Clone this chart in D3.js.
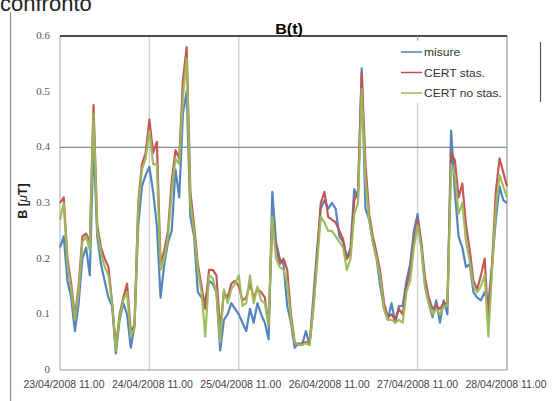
<!DOCTYPE html>
<html>
<head>
<meta charset="utf-8">
<script src="https://cdn.jsdelivr.net/npm/d3@7"></script>
<style>
body { margin: 0; background: #fff; }
svg { display: block; font-family: "Liberation Sans", Arial, sans-serif; }
</style>
</head>
<body>
<script>
// serie orarie dal 23/04/2008 11.00 al 28/04/2008 11.00
let seriesNames = ['misure', 'CERT stas.', 'CERT no stas.']
let colors = ['#4a7ebb', '#c0504d', '#9bbb59']
let tickLabels = ['23/04/2008 11.00', '24/04/2008 11.00', '25/04/2008 11.00',
	'26/04/2008 11.00', '27/04/2008 11.00', '28/04/2008 11.00']
let yTicks = [0, 0.1, 0.2, 0.3, 0.4, 0.5, 0.6]

let misure = [
	0.22, 0.24, 0.16, 0.13, 0.07, 0.12, 0.20, 0.22, 0.17, 0.41,
	0.24, 0.19, 0.16, 0.13, 0.115, 0.03, 0.09, 0.12, 0.10, 0.04,
	0.08, 0.26, 0.33, 0.35, 0.365, 0.32, 0.26, 0.13, 0.19, 0.23,
	0.25, 0.36, 0.31, 0.46, 0.50, 0.275, 0.24, 0.14, 0.13, 0.125,
	0.16, 0.155, 0.14, 0.035, 0.09, 0.10, 0.12, 0.11, 0.10, 0.085,
	0.07, 0.11, 0.085, 0.12, 0.10, 0.085, 0.055, 0.32, 0.23, 0.20,
	0.19, 0.115, 0.085, 0.04, 0.048, 0.045, 0.07, 0.045, 0.13, 0.215,
	0.29, 0.305, 0.29, 0.30, 0.29, 0.24, 0.23, 0.20, 0.22, 0.325,
	0.31, 0.542, 0.29, 0.27, 0.23, 0.20, 0.15, 0.11, 0.09, 0.12,
	0.085, 0.115, 0.115, 0.16, 0.19, 0.25, 0.28, 0.22, 0.15, 0.12,
	0.095, 0.125, 0.085, 0.125, 0.10, 0.43, 0.32, 0.24, 0.22, 0.185,
	0.19, 0.14, 0.13, 0.125, 0.14, 0.12, 0.19, 0.27, 0.33, 0.305,
	0.30
]
let certStas = [
	0.30, 0.31, 0.20, 0.155, 0.096, 0.15, 0.24, 0.245, 0.23, 0.476,
	0.26, 0.22, 0.20, 0.185, 0.12, 0.04, 0.10, 0.13, 0.155, 0.07,
	0.08, 0.30, 0.37, 0.39, 0.45, 0.39, 0.41, 0.19, 0.215, 0.25,
	0.34, 0.395, 0.38, 0.52, 0.58, 0.32, 0.26, 0.19, 0.15, 0.11,
	0.18, 0.18, 0.17, 0.07, 0.14, 0.13, 0.155, 0.16, 0.15, 0.125,
	0.13, 0.155, 0.13, 0.145, 0.14, 0.13, 0.08, 0.27, 0.22, 0.19,
	0.20, 0.18, 0.10, 0.05, 0.045, 0.048, 0.05, 0.048, 0.11, 0.20,
	0.30, 0.32, 0.275, 0.27, 0.265, 0.25, 0.235, 0.20, 0.21, 0.305,
	0.32, 0.533, 0.37, 0.28, 0.24, 0.21, 0.175, 0.12, 0.095, 0.10,
	0.09, 0.11, 0.10, 0.15, 0.175, 0.23, 0.27, 0.23, 0.165, 0.13,
	0.11, 0.115, 0.11, 0.12, 0.12, 0.39, 0.377, 0.31, 0.335, 0.26,
	0.215, 0.16, 0.145, 0.17, 0.20, 0.085, 0.19, 0.32, 0.38, 0.355,
	0.33
]
let certNoStas = [
	0.27, 0.30, 0.19, 0.145, 0.09, 0.14, 0.23, 0.24, 0.215, 0.46,
	0.25, 0.21, 0.185, 0.17, 0.12, 0.035, 0.095, 0.125, 0.14, 0.06,
	0.075, 0.29, 0.36, 0.38, 0.43, 0.37, 0.37, 0.18, 0.20, 0.24,
	0.32, 0.38, 0.37, 0.49, 0.56, 0.30, 0.25, 0.18, 0.14, 0.06,
	0.17, 0.165, 0.14, 0.05, 0.145, 0.12, 0.145, 0.155, 0.17, 0.115,
	0.12, 0.17, 0.12, 0.15, 0.125, 0.12, 0.08, 0.275, 0.20, 0.185,
	0.18, 0.155, 0.09, 0.05, 0.045, 0.045, 0.048, 0.045, 0.11, 0.19,
	0.275, 0.265, 0.25, 0.25, 0.24, 0.23, 0.22, 0.18, 0.20, 0.28,
	0.30, 0.505, 0.34, 0.27, 0.23, 0.20, 0.165, 0.11, 0.09, 0.09,
	0.085, 0.09, 0.085, 0.14, 0.16, 0.22, 0.26, 0.22, 0.15, 0.12,
	0.10, 0.11, 0.10, 0.115, 0.115, 0.37, 0.35, 0.28, 0.30, 0.23,
	0.195, 0.15, 0.14, 0.15, 0.17, 0.06, 0.18, 0.29, 0.35, 0.33,
	0.31
]

let width = 553, height = 401
let start = new Date(2008, 3, 23, 11, 0)
let end = new Date(2008, 3, 28, 11, 0)
let pLeft = 60, pRight = 507, pTop = 36, pBottom = 370

let svg = d3.select('body').append('svg')
	.attr('width', width)
	.attr('height', height)

let x = d3.scaleTime().domain([start, end]).range([pLeft, pRight])
let y = d3.scaleLinear().domain([0, 0.6]).range([pBottom, pTop])

// testo schiacciato in orizzontale come nell'immagine
function txt(g, px, py, s, sx) {
	return g.append('text')
		.attr('transform', `translate(${px},${py}) scale(${sx || 1.15},1)`)
		.text(s)
}

// pezzo del titolo della pagina tagliato in alto
txt(svg, 0, 11, 'confronto', 1)
	.attr('font-size', 22).attr('fill', '#222')

// bordo pagina
svg.append('line').attr('x1', 10.5).attr('x2', 10.5).attr('y1', 12).attr('y2', height)
	.attr('stroke', '#8c8c8c').attr('stroke-width', 1.2)
svg.append('line').attr('x1', 540.5).attr('x2', 540.5).attr('y1', 42).attr('y2', 102)
	.attr('stroke', '#555').attr('stroke-width', 1.2)

// griglia verticale (manca quella del 26/04)
let vgrid = [0, 1, 2, 4].map(d => d3.timeDay.offset(start, d))
svg.append('g').selectAll('line').data(vgrid).join('line')
	.attr('x1', d => x(d)).attr('x2', d => x(d))
	.attr('y1', pTop).attr('y2', pBottom)
	.attr('stroke', '#d4d4d4').attr('stroke-width', d => +d === +start ? 2 : 1.5)
svg.append('line').attr('x1', x(end)).attr('x2', x(end)).attr('y1', pTop).attr('y2', pBottom)
	.attr('stroke', '#8a8a8a').attr('stroke-width', 1)

// griglia orizzontale
svg.append('line').attr('x1', pLeft).attr('x2', pRight).attr('y1', y(0.4)).attr('y2', y(0.4))
	.attr('stroke', '#8a8a8a').attr('stroke-width', 1.3)
svg.append('line').attr('x1', pLeft).attr('x2', pRight).attr('y1', y(0.6)).attr('y2', y(0.6))
	.attr('stroke', '#111').attr('stroke-width', 1.5)
svg.append('line').attr('x1', pLeft).attr('x2', pRight).attr('y1', y(0)).attr('y2', y(0))
	.attr('stroke', '#9a9a9a').attr('stroke-width', 1.2)

// serie
let times = misure.map((d, i) => d3.timeHour.offset(start, i))
let line = d3.line()
	.x((d, i) => x(times[i]))
	.y(d => y(d))
let allSeries = [misure, certStas, certNoStas]
svg.append('g').selectAll('path').data(allSeries).join('path')
	.attr('d', line)
	.attr('fill', 'none')
	.attr('stroke', (d, i) => colors[i])
	.attr('stroke-width', 2.2)
	.attr('stroke-linejoin', 'round')
	.attr('opacity', 0.95)

// legenda
let lg = svg.append('g')
lg.append('rect').attr('x', 398).attr('y', 40).attr('width', 108).attr('height', 63).attr('fill', '#fff')
svg.append('line').attr('x1', x(vgrid[3])).attr('x2', x(vgrid[3])).attr('y1', pTop).attr('y2', 41)
	.attr('stroke', '#aaa').attr('stroke-width', 1)
seriesNames.forEach((n, i) => {
	let ly = 52 + i * 20.5
	lg.append('line').attr('x1', 401).attr('x2', 422).attr('y1', ly).attr('y2', ly)
		.attr('stroke', colors[i]).attr('stroke-width', 1.5)
	txt(lg, 424, ly + 4, n).attr('font-size', 10.5).attr('fill', '#333')
})

// assi
svg.append('g').selectAll('text').data(yTicks).join('text')
	.attr('transform', d => `translate(50,${y(d) + 3}) scale(1.15,1)`)
	.attr('text-anchor', 'end')
	.attr('font-family', '"Liberation Serif", serif')
	.attr('font-size', 9.5)
	.attr('fill', '#555')
	.text(d => d === 0 ? '0' : d.toFixed(1))

let labelX = d3.scaleLinear().domain([0, tickLabels.length - 1]).range([64, 506])
svg.append('g').selectAll('text').data(tickLabels).join('text')
	.attr('transform', (d, i) => `translate(${labelX(i)},388)`)
	.attr('text-anchor', 'middle')
	.attr('font-size', 10.5)
	.attr('fill', '#444')
	.text(d => d)

// titoli
txt(svg, 289, 34, 'B(t)', 1.15)
	.attr('text-anchor', 'middle').attr('font-size', 14).attr('font-weight', 'bold')
let yt = svg.append('text')
	.attr('transform', 'translate(27,201) rotate(-90)')
	.attr('text-anchor', 'middle')
	.attr('font-size', 12.5).attr('font-weight', 'bold').attr('fill', '#222')
yt.append('tspan').text('B [')
yt.append('tspan').attr('font-style', 'italic').attr('font-weight', 'normal').text('μ')
yt.append('tspan').text('T]')
</script>
</body>
</html>
